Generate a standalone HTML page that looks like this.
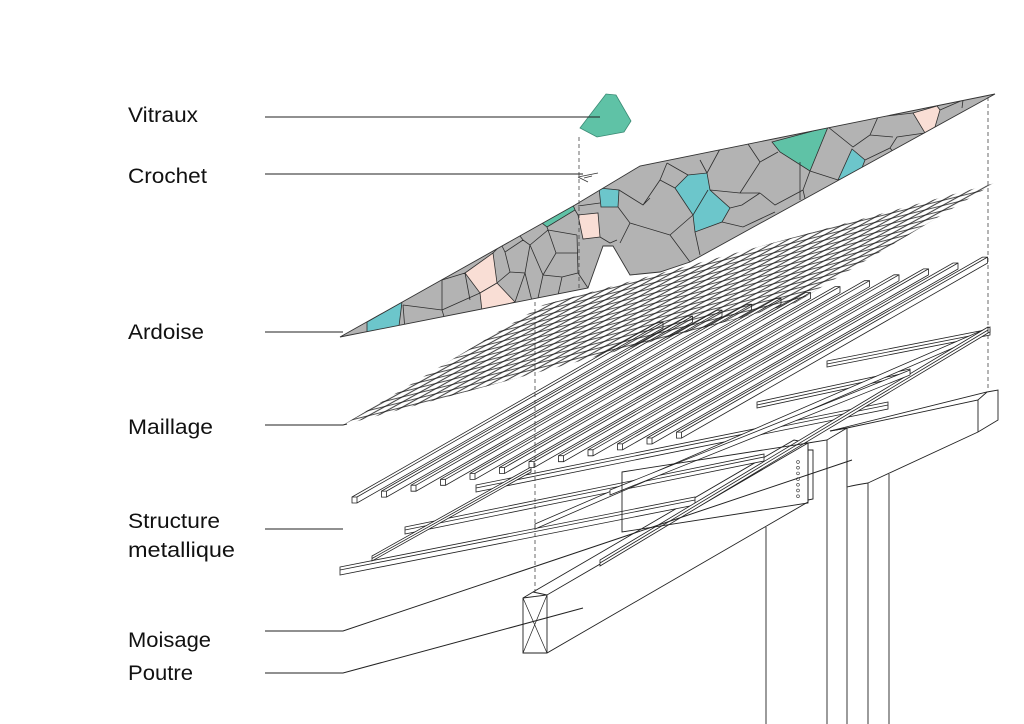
<!DOCTYPE html>
<html>
<head>
<meta charset="utf-8">
<style>
  html,body{margin:0;padding:0;background:#fff;}
  svg{display:block;}
  .lbl{font-family:"Liberation Sans",Arial,sans-serif;font-size:21px;fill:#111;}
</style>
</head>
<body>
<svg width="1024" height="724" viewBox="0 0 1024 724" xmlns="http://www.w3.org/2000/svg">
  <defs>
    <pattern id="m1" patternUnits="userSpaceOnUse" width="40" height="4.5" patternTransform="rotate(-29)">
      <line x1="0" y1="2.2" x2="40" y2="2.2" stroke="#1a1a1a" stroke-width="0.85"/>
    </pattern>
    <pattern id="m2" patternUnits="userSpaceOnUse" width="40" height="5" patternTransform="rotate(-14)">
      <line x1="0" y1="2.5" x2="40" y2="2.5" stroke="#1a1a1a" stroke-width="0.75"/>
    </pattern>
    <clipPath id="roofclip">
      <polygon points="340,337 575,205 640,166 995,94 690,262 660,272 630,275 613,246 603,246 588,288"/>
    </clipPath>
  </defs>

  <!-- Labels -->
  <text class="lbl" x="128" y="122" textLength="70" lengthAdjust="spacingAndGlyphs">Vitraux</text>
  <text class="lbl" x="128" y="183" textLength="79" lengthAdjust="spacingAndGlyphs">Crochet</text>
  <text class="lbl" x="128" y="339" textLength="76" lengthAdjust="spacingAndGlyphs">Ardoise</text>
  <text class="lbl" x="128" y="434" textLength="85" lengthAdjust="spacingAndGlyphs">Maillage</text>
  <text class="lbl" x="128" y="528" textLength="92" lengthAdjust="spacingAndGlyphs">Structure</text>
  <text class="lbl" x="128" y="557" textLength="107" lengthAdjust="spacingAndGlyphs">metallique</text>
  <text class="lbl" x="128" y="647" textLength="83" lengthAdjust="spacingAndGlyphs">Moisage</text>
  <text class="lbl" x="128" y="680" textLength="65" lengthAdjust="spacingAndGlyphs">Poutre</text>

  <g fill="none" stroke="#222" stroke-width="0.9">
    <!-- columns -->
    <line x1="766" y1="527" x2="766" y2="724"/>
    <line x1="827" y1="440" x2="827" y2="724"/>
    <line x1="847" y1="428" x2="847" y2="724"/>
    <line x1="868" y1="483" x2="868" y2="724"/>
    <line x1="889" y1="474" x2="889" y2="724"/>
  </g>

  <!-- upper beam -->
  <g stroke="#222" stroke-width="0.9" fill="#fff">
    <path d="M830,431 L987,392 L998,390 L998,420 L978,432 L868,483 Q855,485 847,487 L847,428 Z"/>
    <path d="M847,428 L978,400 L987,392 M978,400 L978,432" fill="none"/>
    <path d="M808,443 L827,440 L847,428 L830,431" fill="none"/>
  </g>

  <!-- poutre -->
  <g stroke="#222" stroke-width="0.9" fill="#fff">
    <path d="M523,598 L533,592 L794,440 L808,443 L808,502 L547,653 L523,653 Z"/>
    <path d="M523,598 L547,595 L808,443 M547,595 L547,653 M533,592 L547,595" fill="none"/>
    <path d="M523,598 L547,653 M547,595 L523,653" fill="none" stroke-width="0.7"/>
  </g>

  <!-- frame crossbars -->
  <g stroke="#222" stroke-width="0.8" fill="#fff">
    <polygon points="340,567 695,497 695,505 340,575"/>
    <line x1="340" y1="570" x2="695" y2="500"/>
    <polygon points="405,527 764,454 764,461 405,534"/>
    <line x1="405" y1="530" x2="764" y2="457"/>
    <polygon points="476,485 888,402 888,409 476,492"/>
    <line x1="476" y1="488" x2="888" y2="405"/>
    <polygon points="757,402 910,369 910,375 757,408"/>
    <line x1="757" y1="405" x2="910" y2="372"/>
    <polygon points="827,361 990,329 990,335 827,367"/>
    <line x1="827" y1="364" x2="990" y2="332"/>
    <!-- rails -->
    <polygon points="372,556 531,467 531,472 372,561"/>
    <line x1="372" y1="558.5" x2="531" y2="469.5"/>
    <polygon points="535,524 990,327 990,332 535,529"/>
    <polygon points="600,560 988,327 988,333 600,566"/>
    <line x1="600" y1="563" x2="988" y2="330"/>
    <polygon points="610,490 910,370 910,375 610,495"/>
  </g>

  <!-- plate (moisage) -->
  <g stroke="#222" stroke-width="0.9" fill="none">
    <polygon points="622,472 808,443 808,503 622,532"/>
    <polyline points="808,450 813,450 813,499 808,500"/>
  </g>
  <g fill="#fff" stroke="#333" stroke-width="0.6">
    <circle cx="798" cy="462" r="1.4"/>
    <circle cx="798" cy="467.7" r="1.4"/>
    <circle cx="798" cy="473.4" r="1.4"/>
    <circle cx="798" cy="479.1" r="1.4"/>
    <circle cx="798" cy="484.8" r="1.4"/>
    <circle cx="798" cy="490.5" r="1.4"/>
    <circle cx="798" cy="496.2" r="1.4"/>
  </g>

  <!-- rafters -->
  <g stroke="#222" stroke-width="0.8" fill="#fff">
    <g transform="translate(352,503)"><polygon points="0,-6 306,-181 311,-181 311,-175 5,0 0,0"/><path d="M5,-6 L311,-181 M0,-6 L5,-6 L5,0" fill="none"/></g>
    <g transform="translate(381.5,497.1)"><polygon points="0,-6 306,-181 311,-181 311,-175 5,0 0,0"/><path d="M5,-6 L311,-181 M0,-6 L5,-6 L5,0" fill="none"/></g>
    <g transform="translate(411,491.2)"><polygon points="0,-6 306,-181 311,-181 311,-175 5,0 0,0"/><path d="M5,-6 L311,-181 M0,-6 L5,-6 L5,0" fill="none"/></g>
    <g transform="translate(440.5,485.3)"><polygon points="0,-6 306,-181 311,-181 311,-175 5,0 0,0"/><path d="M5,-6 L311,-181 M0,-6 L5,-6 L5,0" fill="none"/></g>
    <g transform="translate(470,479.4)"><polygon points="0,-6 306,-181 311,-181 311,-175 5,0 0,0"/><path d="M5,-6 L311,-181 M0,-6 L5,-6 L5,0" fill="none"/></g>
    <g transform="translate(499.5,473.5)"><polygon points="0,-6 306,-181 311,-181 311,-175 5,0 0,0"/><path d="M5,-6 L311,-181 M0,-6 L5,-6 L5,0" fill="none"/></g>
    <g transform="translate(529,467.6)"><polygon points="0,-6 306,-181 311,-181 311,-175 5,0 0,0"/><path d="M5,-6 L311,-181 M0,-6 L5,-6 L5,0" fill="none"/></g>
    <g transform="translate(558.5,461.7)"><polygon points="0,-6 306,-181 311,-181 311,-175 5,0 0,0"/><path d="M5,-6 L311,-181 M0,-6 L5,-6 L5,0" fill="none"/></g>
    <g transform="translate(588,455.8)"><polygon points="0,-6 306,-181 311,-181 311,-175 5,0 0,0"/><path d="M5,-6 L311,-181 M0,-6 L5,-6 L5,0" fill="none"/></g>
    <g transform="translate(617.5,449.9)"><polygon points="0,-6 306,-181 311,-181 311,-175 5,0 0,0"/><path d="M5,-6 L311,-181 M0,-6 L5,-6 L5,0" fill="none"/></g>
    <g transform="translate(647,444)"><polygon points="0,-6 306,-181 311,-181 311,-175 5,0 0,0"/><path d="M5,-6 L311,-181 M0,-6 L5,-6 L5,0" fill="none"/></g>
    <g transform="translate(676.5,438.1)"><polygon points="0,-6 306,-181 311,-181 311,-175 5,0 0,0"/><path d="M5,-6 L311,-181 M0,-6 L5,-6 L5,0" fill="none"/></g>
  </g>

  <!-- mesh (maillage) -->
  <polygon points="343,425 795,303 995,183 543,305" fill="url(#m1)"/>
  <polygon points="343,425 795,303 995,183 543,305" fill="url(#m2)"/>

  <!-- roof (ardoise + voronoi) -->
  <polygon points="340,337 575,205 640,166 995,94 690,262 660,272 630,275 613,246 603,246 588,288" fill="#b3b3b3"/>
  <g clip-path="url(#roofclip)">
    <g stroke="#2e2e2e" stroke-width="0.8">
      <polygon points="367,322 402,302 399,326 367,332" fill="#6cc6cb"/>
      <polygon points="465,273 493,253 497,283 480,293" fill="#f9ded5"/>
      <polygon points="480,293 497,283 515,302 482,311" fill="#f9ded5"/>
      <polygon points="542,223 573,205 575,210 547,227" fill="#5fc2a6"/>
      <polygon points="578,215 598,213 600,237 583,239" fill="#f9ded5"/>
      <polygon points="599,188 619,190 618,207 601,207" fill="#6cc6cb"/>
      <polygon points="675,188 688,175 707,173 710,190 730,208 722,222 695,232 693,215" fill="#6cc6cb"/>
      <polygon points="772,142 828,127 810,171 780,152" fill="#5fc2a6"/>
      <polygon points="852,149 865,160 860,173 838,180" fill="#6cc6cb"/>
      <polygon points="913,113 937,106 940,110 935,127 925,133" fill="#f9ded5"/>
    </g>
    <path fill="none" stroke="#2e2e2e" stroke-width="0.8" d="
      M403,305 L442,310 M442,280 L442,310 L445,320 M442,280 L465,273
      M442,310 L480,293 M493,253 L500,246
      M497,283 L510,272 L525,273 L515,302
      M510,272 L505,252 L523,240 L530,245 L525,273
      M505,252 L502,246 M523,240 L520,236
      M530,245 L548,230 L547,227 M548,230 L577,235
      M525,273 L532,301 M543,275 L538,298 M562,277 L558,295
      M530,245 L543,275 L562,277 L578,273 L588,288
      M577,235 L578,273 M548,230 L556,253 L578,253 M556,253 L543,275
      M575,210 L578,215 M578,206 L600,203
      M600,237 L610,243 L617,240
      M619,190 L643,205 L650,198 M618,207 L630,223 L620,243
      M630,223 L670,235 M643,205 L660,180 L667,163
      M675,188 L660,180 M688,175 L667,163 M707,173 L720,149
      M708,190 L693,215 M693,215 L670,235 M670,235 L690,262
      M710,190 L740,193 L760,193 M740,193 L760,162 L778,152 M760,162 L748,144
      M730,208 L742,205 L760,193 M722,222 L743,227 L775,212
      M695,232 L700,255
      M810,171 L803,190 L807,207 M838,180 L810,171 M760,193 L775,205 L803,190
      M828,127 L853,147 L870,135 L878,117 L913,113
      M865,160 L890,148 L897,137 L925,133 M870,135 L893,137
      M940,110 L963,100 L962,108 M890,148 L900,160
      M700,160 L707,173 M800,162 L800,200
      M470,300 L465,273 M405,330 L403,305
      M599,188 L590,178
    "/>
  </g>
  <polygon points="340,337 575,205 640,166 995,94 690,262 660,272 630,275 613,246 603,246 588,288" fill="none" stroke="#333" stroke-width="0.9"/>

  <!-- vitraux piece -->
  <polygon points="580,128 606,94 616,95 631,121 624,132 597,137" fill="#5fc2a6" stroke="#3a8a74" stroke-width="0.8"/>

  <!-- crochet -->
  <path d="M578,177 L598,173 M578,177 L588,182 M584,178 L592,176" fill="none" stroke="#333" stroke-width="0.8"/>

  <!-- dashed guides -->
  <g stroke="#444" stroke-width="0.8" stroke-dasharray="4 3" fill="none">
    <line x1="579" y1="137" x2="579" y2="290"/>
    <line x1="535" y1="302" x2="535" y2="597"/>
    <line x1="988" y1="97" x2="988" y2="391"/>
  </g>

  <!-- leader lines -->
  <g stroke="#222" stroke-width="1" fill="none">
    <line x1="265" y1="117" x2="600" y2="117"/>
    <line x1="265" y1="174" x2="583" y2="174"/>
    <line x1="265" y1="332" x2="343" y2="332"/>
    <polyline points="265,425 343,425 347,424"/>
    <line x1="265" y1="529" x2="343" y2="529"/>
    <polyline points="265,631 343,631 852,460"/>
    <polyline points="265,673 343,673 583,608"/>
  </g>
</svg>
</body>
</html>
